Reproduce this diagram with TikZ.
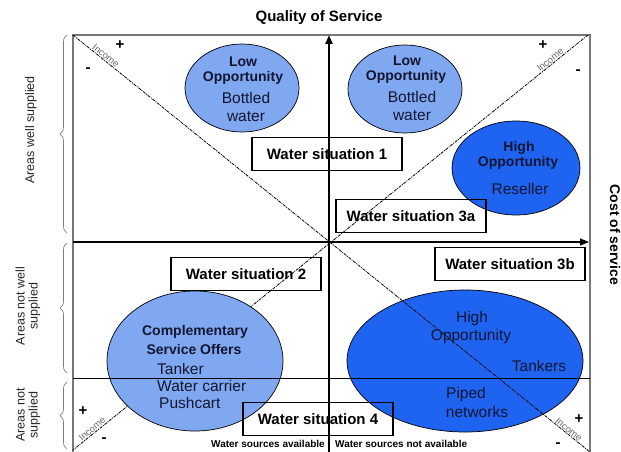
\documentclass[tikz,border=0pt]{standalone}
\usepackage{fontspec}
\setmainfont{Liberation Sans}
\usetikzlibrary{shapes.geometric,decorations.pathreplacing,arrows.meta}
\definecolor{lightblu}{RGB}{128,168,240}
\definecolor{darkblu}{RGB}{30,100,240}
\definecolor{inktext}{RGB}{18,22,50}
\definecolor{framegray}{RGB}{120,120,120}
\definecolor{incgray}{RGB}{105,105,105}
\begin{document}
\begin{tikzpicture}[x=1pt,y=-1pt,
  oval/.style={ellipse, draw=black, line width=0.7pt, inner sep=0pt},
  lightoval/.style={oval, fill=lightblu},
  darkoval/.style={oval, fill=darkblu},
  sitbox/.style={draw=black, line width=1.1pt, minimum width=150pt, minimum height=33pt, inner sep=0pt, font=\bfseries\fontsize{15}{18}\selectfont},
  boldtxt/.style={inner sep=0pt, text=inktext, font=\bfseries\fontsize{14}{16}\selectfont},
  regtxt/.style={inner sep=0pt, text=inktext, font=\fontsize{15.5}{18}\selectfont},
  sidetxt/.style={inner sep=0pt, rotate=90, align=center, text=black!85, font=\fontsize{12.5}{13}\selectfont},
  incometxt/.style={inner sep=1pt, anchor=south, text=incgray, font=\fontsize{9.5}{10}\selectfont},
  signtxt/.style={inner sep=0pt, font=\bfseries\fontsize{15}{16}\selectfont},
  diag/.style={line width=0.8pt, dash pattern=on 3pt off 1pt on 1pt off 1pt},
  sidebrace/.style={draw=gray, line width=0.7pt, decorate, decoration={brace, amplitude=7pt}},
  axis/.style={-{Triangle[length=9pt,width=7pt]}, black}
]
\useasboundingbox (0,0) rectangle (621,452);

% key coordinates
\coordinate (TL) at (73,35);
\coordinate (TR) at (590,35);
\coordinate (BL) at (73,452);
\coordinate (BR) at (590,452);
\coordinate (vb) at (329,452);
\coordinate (vt) at (329,35);
\coordinate (hl) at (73,242);
\coordinate (hr) at (589,242);
\coordinate (ml) at (73,378);
\coordinate (mr) at (590,378);
\coordinate (d2s) at (588,35);
\coordinate (d2e) at (73,450);

% frame
\draw[framegray, line width=1.4pt] (BL) -- (TL) -- (TR) -- (BR);

% diagonal under the ellipses
\draw[diag] (d2s) -- (d2e);

% ellipses
\node[lightoval, minimum width=114pt, minimum height=88pt] (lowL) at (242,88) {};
\node[lightoval, minimum width=114pt, minimum height=88pt] (lowR) at (405,89) {};
\node[darkoval, minimum width=128pt, minimum height=94pt] (resel) at (516,168) {};
\node[lightoval, minimum width=176pt, minimum height=140pt] (compl) at (195,361) {};
\node[darkoval, minimum width=236pt, minimum height=142pt] (tank) at (465,361) {};

% lines over the ellipses
\draw[diag] (TL) -- (BR);
\draw[line width=0.9pt] (ml) -- (mr);

% situation boxes
\node[sitbox] (ws1) at (327,154) {Water situation 1};
\node[sitbox] (ws3a) at (411,216) {Water situation 3a};
\node[sitbox] (ws2) at (246,274) {Water situation 2};
\node[sitbox] (ws3b) at (510,264) {Water situation 3b};
\node[sitbox] (ws4) at (318,419) {Water situation 4};

% axes
\draw[axis, line width=2.2pt] (vb) -- (vt);
\draw[axis, line width=1.2pt] (hl) -- (hr);

% ellipse texts
\node[boldtxt] (l1a) at (243,62) {Low};
\node[boldtxt] (l1b) at (243,78) {Opportunity};
\node[regtxt] (l1c) at (246,98) {Bottled};
\node[regtxt] (l1d) at (246,117) {water};

\node[boldtxt] (l2a) at (407,61) {Low};
\node[boldtxt] (l2b) at (406,77) {Opportunity};
\node[regtxt] (l2c) at (412,97) {Bottled};
\node[regtxt] (l2d) at (412,116) {water};

\node[boldtxt] (r1) at (519,148) {High};
\node[boldtxt] (r2) at (518,163) {Opportunity};
\node[regtxt] (r3) at (520,189) {Reseller};

\node[boldtxt] (c1) at (195,332) {Complementary};
\node[boldtxt] (c2) at (194,349) {Service Offers};
\node[regtxt, anchor=west] (c3) at (157,369) {Tanker};
\node[regtxt, anchor=west] (c4) at (157,386) {Water carrier};
\node[regtxt, anchor=west] (c5) at (159,403) {Pushcart};

\node[regtxt] (t1) at (472,318) {High};
\node[regtxt] (t2) at (471,336) {Opportunity};
\node[regtxt] (t3) at (539,366) {Tankers};
\node[regtxt] (t4) at (466,394) {Piped};
\node[regtxt] (t5) at (477,412) {networks};

% titles
\node[inner sep=0pt, font=\bfseries\fontsize{15}{18}\selectfont] (qos) at (319,18) {Quality of Service};
\node[inner sep=0pt, rotate=-90, font=\bfseries\fontsize{14}{16}\selectfont] (cos) at (615,235) {Cost of service};
\node[inner sep=0pt, anchor=east, font=\bfseries\fontsize{10}{12}\selectfont] (wsa) at (325,444) {Water sources available};
\node[inner sep=0pt, anchor=west, font=\bfseries\fontsize{10}{12}\selectfont] (wsn) at (335,444) {Water sources not available};

% side labels
\node[sidetxt] (aws) at (31,130) {Areas well supplied};
\node[sidetxt] (anws) at (28,306) {Areas not well\\supplied};
\node[sidetxt] (ans) at (28,415) {Areas not\\supplied};

\coordinate (b1s) at (67,233);
\coordinate (b1e) at (67,35);
\coordinate (b2s) at (67,373);
\coordinate (b2e) at (67,243);
\coordinate (b3s) at (67,449);
\coordinate (b3e) at (67,382);
\path[sidebrace] (b1s) -- (b1e);
\path[sidebrace] (b2s) -- (b2e);
\path[sidebrace] (b3s) -- (b3e);

% income labels (sitting on the diagonals) and signs
\coordinate (i1) at (103,59.2);
\coordinate (i2) at (553,63.2);
\coordinate (i3) at (95,432.3);
\coordinate (i4) at (566,432.9);
\node[incometxt, rotate=-39] (inc1) at (i1) {Income};
\node[incometxt, rotate=39] (inc2) at (i2) {Income};
\node[incometxt, rotate=39] (inc3) at (i3) {Income};
\node[incometxt, rotate=-39] (inc4) at (i4) {Income};

\node[signtxt] (p1) at (120,45) {+};
\node[signtxt] (m1) at (88,70) {-};
\node[signtxt] (p2) at (543,45) {+};
\node[signtxt] (m2) at (578,72) {-};
\node[signtxt] (p3) at (83,411) {+};
\node[signtxt] (m3) at (104,440) {-};
\node[signtxt] (p4) at (579,419) {+};
\node[signtxt] (m4) at (558,445) {-};
\end{tikzpicture}
\end{document}
